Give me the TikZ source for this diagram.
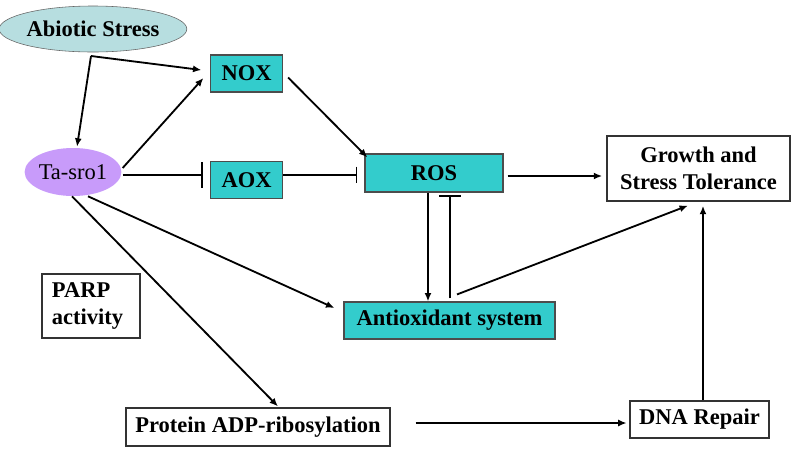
\documentclass[tikz,border=0pt]{standalone}
\usepackage{fontspec}
\setmainfont{Liberation Serif}
\usetikzlibrary{arrows.meta,shapes.geometric,calc}

\definecolor{boxteal}{RGB}{51,204,204}
\definecolor{stressblue}{RGB}{183,222,224}
\definecolor{sroviolet}{RGB}{200,155,250}

\begin{document}
\begin{tikzpicture}[x=0.025cm,y=-0.025cm,
  every node/.style={font=\bfseries\fontsize{16}{19.5}\selectfont,inner sep=0pt},
  tealbox/.style={draw=black!70,fill=boxteal,line width=0.8pt},
  whitebox/.style={draw=black!80,fill=white,line width=0.8pt},
  link/.style={line width=1.3pt,-{Latex[length=6pt,width=5pt]}},
  block/.style={line width=1.3pt,-{Bar[width=#1]}}]

\useasboundingbox (0,0) rectangle (793,450);

% nodes
\node[ellipse,draw=black!60,fill=stressblue,minimum width=4.575cm,minimum height=1.15cm] (stress) at (93,29) {Abiotic Stress};
\node[ellipse,fill=sroviolet,minimum width=2.25cm,minimum height=1.2cm,font=\mdseries\fontsize{16}{19.5}\selectfont] (tasro) at (73,172) {Ta-sro1};
\node[tealbox,minimum width=1.8cm,minimum height=0.925cm] (nox) at (246.5,73.5) {NOX};
\node[tealbox,minimum width=1.8cm,minimum height=0.925cm] (aox) at (246.5,180) {AOX};
\node[tealbox,minimum width=3.45cm,minimum height=0.95cm] (ros) at (434,173) {ROS};
\node[whitebox,minimum width=4.575cm,minimum height=1.625cm,align=center] (growth) at (698.5,168.5) {Growth and\\Stress Tolerance};
\node[tealbox,minimum width=5.275cm,minimum height=0.925cm] (antiox) at (449.5,320.5) {Antioxidant system};
\node[whitebox,text width=1.95cm,inner xsep=0.25cm,minimum height=1.6cm,align=left] (parp) at (91,306) {PARP\\activity};
\node[whitebox,minimum width=6.6cm,minimum height=0.95cm] (protein) at (258,427) {Protein ADP-ribosylation};
\node[whitebox,minimum width=3.475cm,minimum height=0.925cm] (dna) at (699.5,419.5) {DNA Repair};

\coordinate (split) at (91,56);

% connectors
\draw[link] (split) -- ($(nox.west)+(-8.5,-3.5)$);
\draw[link] (split) -- ($(tasro.north)+(4,-1)$);
\draw[link] ($(tasro.east)+(1,-4)$) -- ($(nox.west)+(-6.5,4.5)$);
\draw[block=18pt,shorten >=5pt] ($(tasro.east)+(1,3)$) coordinate (t1) -- (t1 -| aox.west);
\draw[block=12pt,shorten >=5pt] ($(aox.east)+(0,-5)$) coordinate (a1) -- (a1 -| ros.west);
\draw[link] ($(nox.east)+(5,4)$) -- ($(ros.north west)+(3,4)$);
\draw[link,shorten >=3pt] ($(ros.east)+(4,3)$) coordinate (r1) -- (r1 -| growth.west);
\draw[link] ($(ros.south)+(-6,0)$) coordinate (r2) -- (r2 |- antiox.north);
\draw[block=15pt,shorten >=2pt] ($(antiox.north)+(0.5,-3)$) coordinate (s1) -- (s1 |- ros.south);
\draw[link] ($(antiox.north)+(7.5,-7)$) -- ($(growth.south)+(-10.5,4)$);
\draw[link,shorten >=3pt] ($(dna.north)+(3.5,0)$) coordinate (d1) -- (d1 |- growth.south);
\draw[link] ($(tasro.south)+(15,0)$) -- ($(antiox.west)+(-9,-12.5)$);
\draw[link] ($(tasro.south)+(-1,0)$) -- ($(protein.north)+(20,-1)$);
\draw[link,shorten >=2pt] ($(protein.east)+(25,-4)$) coordinate (p1) -- (p1 -| dna.west);
\end{tikzpicture}
\end{document}
